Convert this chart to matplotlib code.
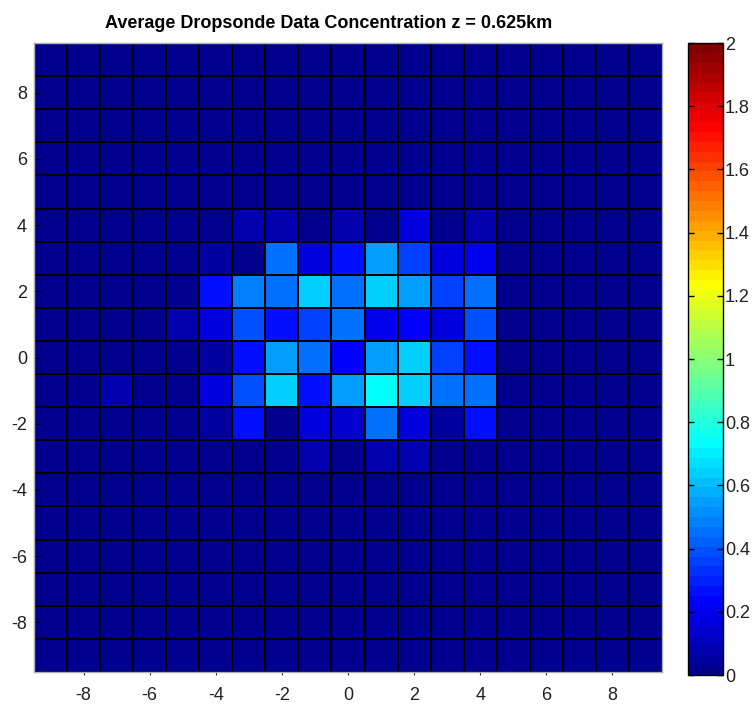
import numpy as np
import matplotlib
matplotlib.use("Agg")
import matplotlib.pyplot as plt
from matplotlib.colors import ListedColormap
from matplotlib.ticker import FormatStrFormatter

# Grid cell centres (km)
x_centers = list(range(-9, 10))
y_centers = list(range(9, -10, -1))  # top row first

# Average concentration per cell, rows from y = 9 down to y = -9,
# columns from x = -9 to x = 9
concentration = [
    [0, 0, 0, 0, 0, 0, 0, 0, 0, 0, 0, 0, 0, 0, 0, 0, 0, 0, 0],
    [0, 0, 0, 0, 0, 0, 0, 0, 0, 0, 0, 0, 0, 0, 0, 0, 0, 0, 0],
    [0, 0, 0, 0, 0, 0, 0, 0, 0, 0, 0, 0, 0, 0, 0, 0, 0, 0, 0],
    [0, 0, 0, 0, 0, 0, 0, 0, 0, 0, 0, 0, 0, 0, 0, 0, 0, 0, 0],
    [0, 0, 0, 0, 0, 0, 0, 0, 0, 0, 0, 0, 0, 0, 0, 0, 0, 0, 0],
    [0, 0, 0, 0, 0, 0, 0.08, 0.08, 0, 0.08, 0, 0.17, 0, 0.08, 0, 0, 0, 0, 0],
    [0, 0, 0, 0, 0, 0.05, 0.03, 0.45, 0.16, 0.26, 0.55, 0.36, 0.16, 0.19, 0, 0, 0, 0, 0],
    [0, 0, 0, 0, 0, 0.26, 0.48, 0.45, 0.64, 0.45, 0.64, 0.55, 0.36, 0.46, 0, 0, 0, 0, 0],
    [0, 0, 0, 0, 0.08, 0.17, 0.39, 0.26, 0.36, 0.46, 0.20, 0.23, 0.16, 0.38, 0, 0, 0, 0, 0],
    [0, 0, 0, 0, 0, 0.05, 0.26, 0.55, 0.45, 0.23, 0.55, 0.64, 0.36, 0.26, 0, 0, 0, 0, 0],
    [0, 0, 0.08, 0, 0, 0.17, 0.38, 0.64, 0.26, 0.55, 0.73, 0.64, 0.46, 0.46, 0, 0, 0, 0, 0],
    [0, 0, 0, 0, 0, 0.05, 0.26, 0.03, 0.16, 0.14, 0.46, 0.16, 0.05, 0.26, 0, 0, 0, 0, 0],
    [0, 0, 0, 0, 0, 0, 0, 0, 0.08, 0, 0.08, 0.08, 0, 0, 0, 0, 0, 0, 0],
    [0, 0, 0, 0, 0, 0, 0, 0, 0, 0, 0, 0, 0, 0, 0, 0, 0, 0, 0],
    [0, 0, 0, 0, 0, 0, 0, 0, 0, 0, 0, 0, 0, 0, 0, 0, 0, 0, 0],
    [0, 0, 0, 0, 0, 0, 0, 0, 0, 0, 0, 0, 0, 0, 0, 0, 0, 0, 0],
    [0, 0, 0, 0, 0, 0, 0, 0, 0, 0, 0, 0, 0, 0, 0, 0, 0, 0, 0],
    [0, 0, 0, 0, 0, 0, 0, 0, 0, 0, 0, 0, 0, 0, 0, 0, 0, 0, 0],
    [0, 0, 0, 0, 0, 0, 0, 0, 0, 0, 0, 0, 0, 0, 0, 0, 0, 0, 0],
]

axis_ticks = [-8, -6, -4, -2, 0, 2, 4, 6, 8]
colorbar_ticks = [0, 0.2, 0.4, 0.6, 0.8, 1.0, 1.2, 1.4, 1.6, 1.8, 2.0]
color_min, color_max = 0, 2
title = "Average Dropsonde Data Concentration z = 0.625km"

# 64-step jet colormap
k = np.arange(1, 65)
red = np.clip((k - 24) / 16, 0, 1) - np.clip((k - 56) / 16, 0, 1)
green = np.clip((k - 8) / 16, 0, 1) - np.clip((k - 40) / 16, 0, 1)
blue = np.clip(0.5 + k / 16, 0, 1) - np.clip((k - 24) / 16, 0, 1)
jet64 = ListedColormap(np.column_stack([red, green, blue]), name="jet64")

tick_family = "Liberation Sans"
tick_size = 13
plt.rcParams["axes.unicode_minus"] = False

W, H = 755, 704
fig = plt.figure(figsize=(W / 100, H / 100), dpi=100)
ax = fig.add_axes([34 / W, 1 - 672 / H, 628 / W, 629 / H])
cax = fig.add_axes([688 / W, 1 - 675 / H, 35 / W, 632 / H])

mesh = ax.pcolormesh(x_centers, y_centers, np.array(concentration), shading="nearest",
                     cmap=jet64, vmin=color_min, vmax=color_max,
                     edgecolors="black", linewidth=1.3, antialiased=False)
ax.set_xlim(-9.5, 9.5)
ax.set_ylim(-9.5, 9.5)
ax.set_xticks(axis_ticks)
ax.set_yticks(axis_ticks)
ax.tick_params(axis="x", direction="out", length=2.5, width=0.8, color="#333333", pad=8)
ax.tick_params(axis="y", direction="in", length=4, width=0.8, pad=5)
for lab in ax.get_xticklabels() + ax.get_yticklabels():
    lab.set_fontfamily(tick_family)
    lab.set_fontsize(tick_size)
    lab.set_color("#222222")
for sp in ax.spines.values():
    sp.set_color("#b0b0b0")
    sp.set_linewidth(1.0)

cbar = fig.colorbar(mesh, cax=cax, ticks=colorbar_ticks)
cbar.outline.set_edgecolor("black")
cbar.outline.set_linewidth(1.0)
cax.yaxis.set_major_formatter(FormatStrFormatter("%g"))
cax.tick_params(axis="y", direction="in", left=True, right=True, length=4, width=1,
                color="black", labelleft=False, labelright=True, pad=1.5)
for lab in cax.get_yticklabels():
    lab.set_fontfamily(tick_family)
    lab.set_fontsize(tick_size)
    lab.set_color("#222222")

fig.text(329 / W, 1 - 28.5 / H, title, ha="center", va="baseline",
         fontfamily="Liberation Sans", fontweight="bold", fontsize=13)

fig.savefig("out.png", dpi=100)
